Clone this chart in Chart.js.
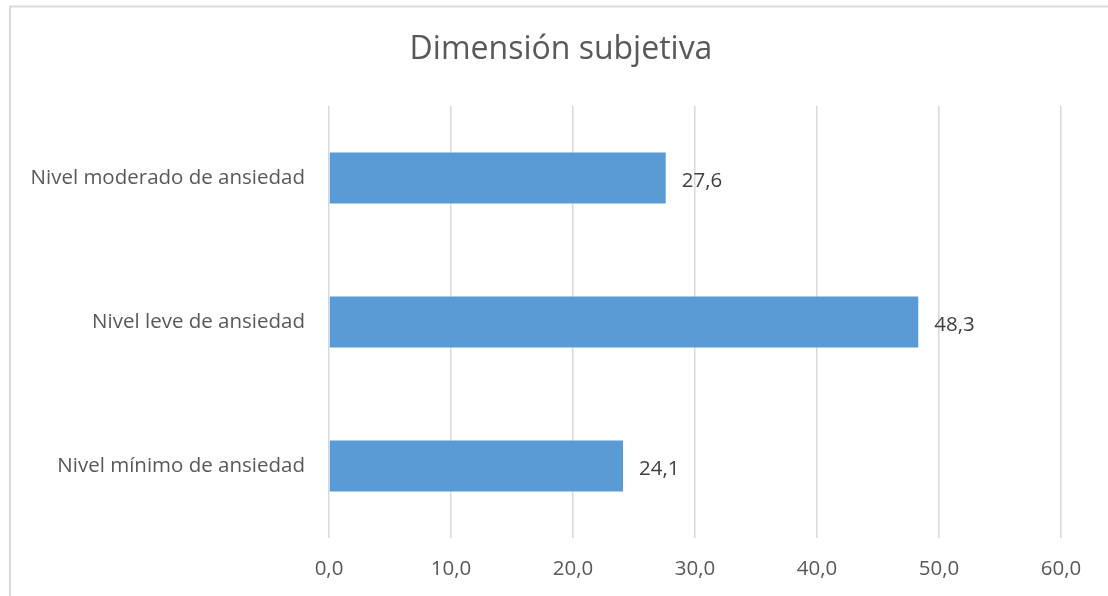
<!DOCTYPE html>
<html>
<head>
<meta charset="utf-8">
<script src="https://cdn.jsdelivr.net/npm/chart.js@4"></script>
<style>
  html, body { margin: 0; padding: 0; background: #ffffff; }
  #wrap { width: 1108px; height: 596px; position: relative; }
</style>
</head>
<body>
<div id="wrap"><canvas id="c" width="1108" height="596"></canvas></div>
<script>
const chartTitle = 'Dimensión subjetiva';
const categories = ['Nivel moderado de ansiedad', 'Nivel leve de ansiedad', 'Nivel mínimo de ansiedad'];
const percentages = [27.6, 48.3, 24.1];
const axisMin = 0;
const axisMax = 60;
const axisStep = 10;

const FONT = '"Open Sans", "Noto Sans", sans-serif';
const LABEL_SIZE = 20.5;
const fmt = v => Number(v).toFixed(1).replace('.', ',');

// outer frame and title of the chart
const framePlugin = {
  id: 'frame',
  beforeDraw(chart) {
    const ctx = chart.ctx;
    ctx.save();
    ctx.fillStyle = '#ffffff';
    ctx.fillRect(0, 0, chart.width, chart.height);
    ctx.strokeStyle = '#d9d9d9';
    ctx.lineWidth = 2;
    ctx.strokeRect(10, 6.5, chart.width + 50, chart.height + 50);
    ctx.font = '32px ' + FONT;
    ctx.fillStyle = '#595959';
    ctx.textAlign = 'center';
    ctx.textBaseline = 'middle';
    ctx.fillText(chartTitle, 561, 50);
    ctx.restore();
  }
};

// value labels at the end of each bar
const valueLabels = {
  id: 'valueLabels',
  afterDatasetsDraw(chart) {
    const ctx = chart.ctx;
    const meta = chart.getDatasetMeta(0);
    ctx.save();
    ctx.font = LABEL_SIZE + 'px ' + FONT;
    ctx.fillStyle = '#404040';
    ctx.textAlign = 'left';
    ctx.textBaseline = 'middle';
    meta.data.forEach((bar, i) => {
      ctx.fillText(fmt(chart.data.datasets[0].data[i]), bar.x + 16, bar.y + 3);
    });
    ctx.restore();
  }
};

new Chart(document.getElementById('c'), {
  type: 'bar',
  data: {
    labels: categories,
    datasets: [{
      data: percentages,
      backgroundColor: '#5b9bd5',
      borderWidth: 0,
      categoryPercentage: 1,
      barPercentage: 0.354
    }]
  },
  options: {
    indexAxis: 'y',
    responsive: false,
    animation: false,
    devicePixelRatio: 1,
    layout: { padding: { left: 0, right: 47, top: 106, bottom: 0 } },
    plugins: {
      legend: { display: false },
      tooltip: { enabled: false },
      title: { display: false }
    },
    scales: {
      x: {
        min: axisMin,
        max: axisMax,
        afterFit(scale) { scale.height = 58; },
        ticks: {
          stepSize: axisStep,
          color: '#595959',
          font: { family: FONT, size: LABEL_SIZE },
          padding: 19,
          maxRotation: 0,
          callback: v => fmt(v)
        },
        grid: { color: '#d9d9d9', lineWidth: 1.5, drawTicks: false },
        border: { display: false }
      },
      y: {
        afterFit(scale) { scale.width = 329; },
        ticks: {
          color: '#595959',
          font: { family: FONT, size: LABEL_SIZE },
          padding: 24
        },
        grid: { display: false, drawTicks: false },
        border: { display: false }
      }
    }
  },
  plugins: [framePlugin, valueLabels]
});
</script>
</body>
</html>
